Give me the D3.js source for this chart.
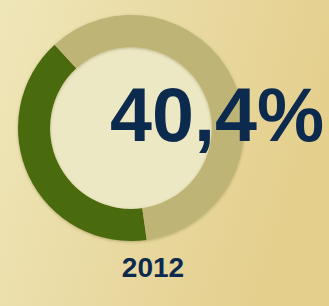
<!DOCTYPE html>
<html>
<head>
<meta charset="utf-8">
<script src="https://cdn.jsdelivr.net/npm/d3@7"></script>
<style>
  html, body { margin: 0; padding: 0; }
  body { width: 329px; height: 306px; overflow: hidden; }
</style>
</head>
<body>
<div id="chart"></div>
<script>
// share of the ring for the year shown
const labels = ["share", "rest"];
const values = [40.4, 59.6];
const colors = ["#4a6a0d", "#bdb475"];
const valueText = "40,4%";
const yearText = "2012";

const width = 329;
const height = 306;

const svg = d3.select("#chart").append("svg")
    .attr("width", width)
    .attr("height", height);

const defs = svg.append("defs");
const bg = defs.append("linearGradient")
    .attr("id", "bg")
    .attr("x1", "0%").attr("y1", "0%")
    .attr("x2", "100%").attr("y2", "30%");
bg.append("stop").attr("offset", "0%").attr("stop-color", "#efe6b9");
bg.append("stop").attr("offset", "100%").attr("stop-color", "#e4cf8d");

const shadow = defs.append("filter")
    .attr("id", "shadow")
    .attr("x", "-10%").attr("y", "-10%")
    .attr("width", "120%").attr("height", "120%");
shadow.append("feDropShadow")
    .attr("dx", 0).attr("dy", 1)
    .attr("stdDeviation", 1.5)
    .attr("flood-color", "#5a5020")
    .attr("flood-opacity", 0.35);

svg.append("rect")
    .attr("width", width)
    .attr("height", height)
    .attr("fill", "url(#bg)");

const cx = 131, cy = 128;
const outerR = 113, innerR = 81;

const g = svg.append("g")
    .attr("transform", `translate(${cx}, ${cy})`);

const pie = d3.pie()
    .sort(null)
    .startAngle(172 * Math.PI / 180)
    .endAngle((172 + 360) * Math.PI / 180);

const arc = d3.arc()
    .innerRadius(innerR)
    .outerRadius(outerR);

g.append("circle")
    .attr("r", innerR)
    .attr("fill", "#ece8c3");

g.selectAll("path")
    .data(pie(values))
    .join("path")
    .attr("d", arc)
    .attr("fill", (d, i) => colors[i])
    .attr("filter", "url(#shadow)");

svg.append("text")
    .attr("x", 110)
    .attr("y", 141)
    .attr("font-family", "Liberation Sans, Arial, sans-serif")
    .attr("font-weight", "bold")
    .attr("font-size", 75.5)
    .attr("fill", "#0c2a4e")
    .text(valueText);

svg.append("text")
    .attr("x", 153)
    .attr("y", 277)
    .attr("text-anchor", "middle")
    .attr("font-family", "Liberation Sans, Arial, sans-serif")
    .attr("font-weight", "bold")
    .attr("font-size", 28)
    .attr("fill", "#0c2a4e")
    .text(yearText);
</script>
</body>
</html>
